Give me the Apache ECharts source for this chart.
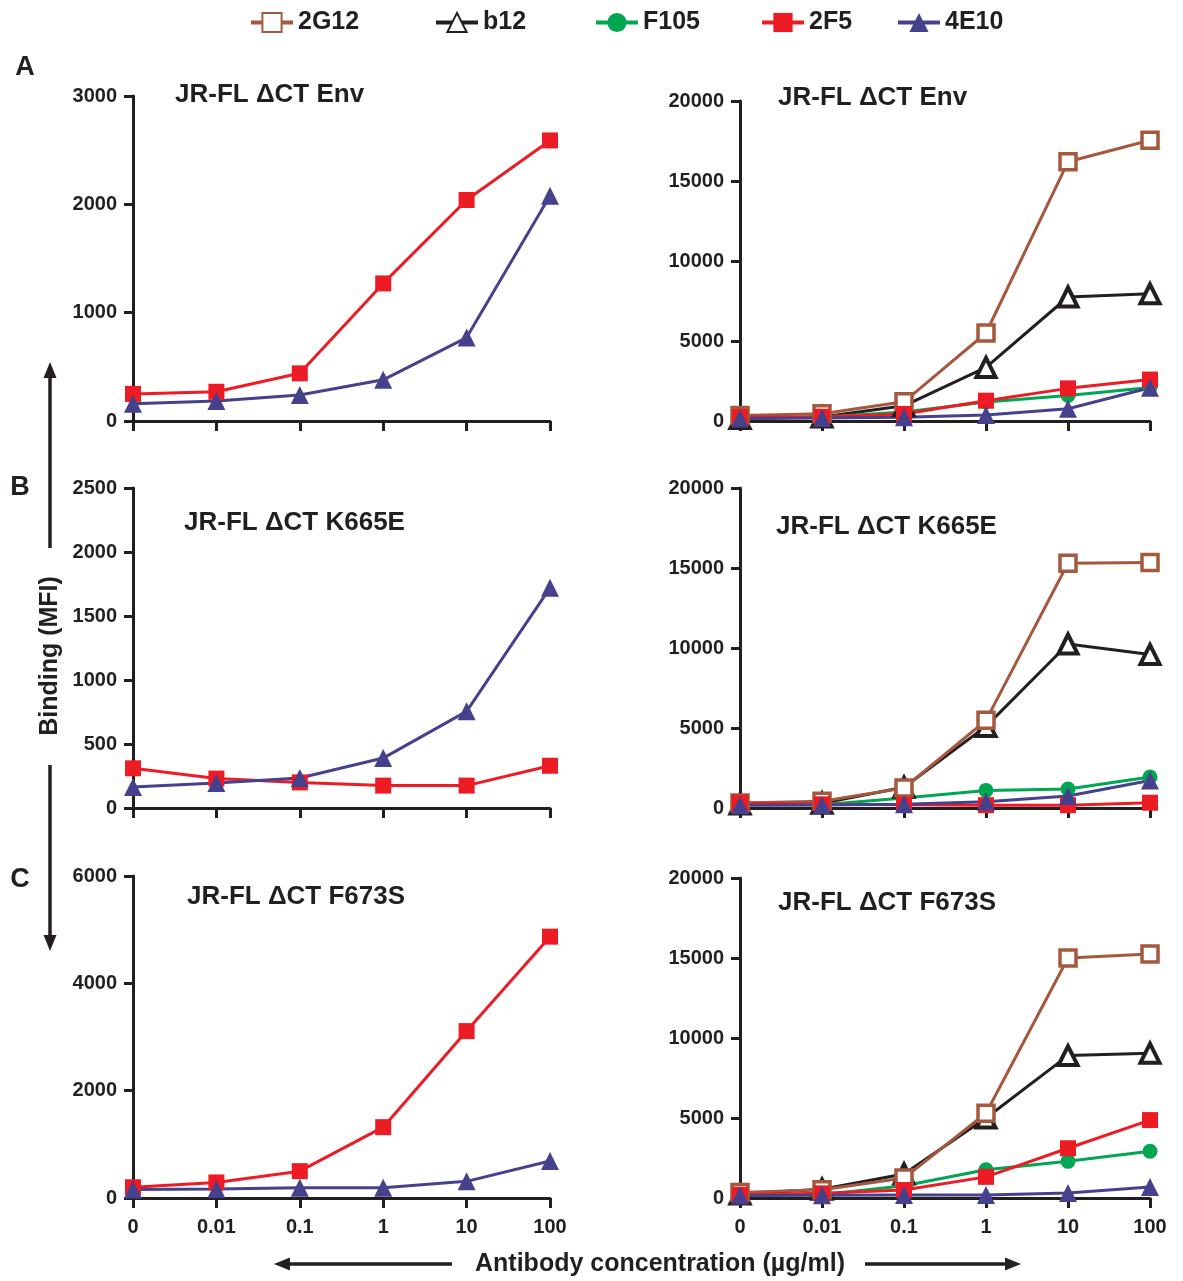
<!DOCTYPE html>
<html>
<head>
<meta charset="utf-8">
<script src="https://cdn.jsdelivr.net/npm/echarts@6/dist/echarts.min.js"></script>
<style>
html,body{margin:0;padding:0;background:#fff;}
#chart{width:1183px;height:1281px;}
</style>
</head>
<body>
<div id="chart"></div>
<script>
// ---- data ----
const categories = ['0', '0.01', '0.1', '1', '10', '100'];
const antibodies = ['2G12', 'b12', 'F105', '2F5', '4E10'];

// Row A: JR-FL ΔCT Env
const env_2G12 = [350, 450, 1200, 5500, 16200, 17550];
const env_b12  = [150, 250, 950, 3350, 7750, 7950];
const env_F105 = [150, 250, 560, 1190, 1600, 2100];
const env_2F5  = [250, 270, 440, 1270, 2040, 2590];
const env_4E10 = [160, 185, 240, 380, 770, 2080];

// Row B: JR-FL ΔCT K665E
const k665_2G12 = [310, 420, 1250, 5480, 15300, 15350];
const k665_b12  = [250, 300, 1300, 5100, 10250, 9600];
const k665_F105 = [200, 200, 620, 1100, 1190, 1940];
const k665_2F5  = [310, 230, 200, 175, 175, 330];
const k665_4E10 = [165, 195, 235, 390, 755, 1720];

// Row C: JR-FL ΔCT F673S
const f673_2G12 = [350, 520, 1250, 5300, 15000, 15250];
const f673_b12  = [250, 550, 1500, 5000, 8900, 9050];
const f673_F105 = [200, 200, 770, 1770, 2290, 2920];
const f673_2F5  = [200, 290, 500, 1320, 3110, 4870];
const f673_4E10 = [160, 170, 190, 190, 310, 690];

const panelTitles = ['JR-FL ΔCT Env', 'JR-FL ΔCT K665E', 'JR-FL ΔCT F673S'];
const leftYMax = [3000, 2500, 6000];
const leftYInterval = [1000, 500, 2000];
const rightYMax = 20000;
const rightYInterval = 5000;

// ---- styles ----
const FONT = '"Liberation Sans", Arial, Helvetica, sans-serif';
const INK = '#231F20';
const C = {
  '2G12': '#A4583D',
  'b12': '#231F20',
  'F105': '#00A651',
  '2F5': '#ED1C24',
  '4E10': '#46418D'
};
function styleFor(name) {
  const col = C[name];
  const base = { lineStyle: { color: col, width: 3 }, color: col };
  if (name === '2G12') return Object.assign(base, { symbol: 'rect', symbolSize: 16, itemStyle: { color: '#fff', borderColor: col, borderWidth: 3.5 } });
  if (name === 'b12') return Object.assign(base, { symbol: 'triangle', symbolSize: 19, itemStyle: { color: '#fff', borderColor: col, borderWidth: 4 } });
  if (name === 'F105') return Object.assign(base, { symbol: 'circle', symbolSize: 15, itemStyle: { color: col } });
  if (name === '2F5') return Object.assign(base, { symbol: 'rect', symbolSize: 16, itemStyle: { color: col } });
  return Object.assign(base, { symbol: 'triangle', symbolSize: 18, itemStyle: { color: col } });
}
function mkSeries(name, data, idx) {
  return Object.assign({
    type: 'line', name: name, data: data,
    xAxisIndex: idx, yAxisIndex: idx,
    showSymbol: true, animation: false, silent: true
  }, styleFor(name));
}

// ---- layout ----
const grids = [
  { left: 133, top: 96,  width: 417, height: 325 },
  { left: 740, top: 101, width: 410, height: 320 },
  { left: 133, top: 488, width: 417, height: 320 },
  { left: 740, top: 488, width: 410, height: 320 },
  { left: 133, top: 876, width: 417, height: 322 },
  { left: 740, top: 878, width: 410, height: 320 }
];

const xAxes = [], yAxes = [];
grids.forEach((g, i) => {
  const row = Math.floor(i / 2);
  const isRight = i % 2 === 1;
  xAxes.push({
    type: 'category', gridIndex: i, data: categories, boundaryGap: false,
    axisLine: { show: true, lineStyle: { color: INK, width: 3 } },
    axisTick: { show: true, length: 10, alignWithLabel: true, lineStyle: { color: INK, width: 3 } },
    axisLabel: { show: row === 2, fontSize: 20, fontWeight: 'bold', color: INK, fontFamily: FONT, margin: 19 },
    splitLine: { show: false }
  });
  yAxes.push({
    type: 'value', gridIndex: i, min: 0,
    max: isRight ? rightYMax : leftYMax[row],
    interval: isRight ? rightYInterval : leftYInterval[row],
    axisLine: { show: true, lineStyle: { color: INK, width: 3 } },
    axisTick: { show: true, length: 9, lineStyle: { color: INK, width: 3 } },
    axisLabel: { fontSize: 20, fontWeight: 'bold', color: INK, fontFamily: FONT, margin: 16,
      formatter: v => String(v) },
    splitLine: { show: false }
  });
});

const rows = [
  { '2G12': env_2G12, 'b12': env_b12, 'F105': env_F105, '2F5': env_2F5, '4E10': env_4E10 },
  { '2G12': k665_2G12, 'b12': k665_b12, 'F105': k665_F105, '2F5': k665_2F5, '4E10': k665_4E10 },
  { '2G12': f673_2G12, 'b12': f673_b12, 'F105': f673_F105, '2F5': f673_2F5, '4E10': f673_4E10 }
];
const series = [];
rows.forEach((r, row) => {
  // left panel: 2F5 and 4E10 only
  series.push(mkSeries('2F5', r['2F5'], row * 2));
  series.push(mkSeries('4E10', r['4E10'], row * 2));
  // right panel: all antibodies (drawing order bottom -> top)
  ['b12', 'F105', '2G12', '2F5', '4E10'].forEach(n => series.push(mkSeries(n, r[n], row * 2 + 1)));
});

// legends, one per antibody
const legendLeft = [249, 434, 594, 760, 896];
const legends = antibodies.map((n, i) => ({
  data: [n], left: legendLeft[i], top: 10, orient: 'horizontal', padding: 0,
  itemWidth: 42, itemHeight: 24, selectedMode: false,
  lineStyle: { width: 4 },
  textStyle: { fontSize: 25, fontWeight: 'bold', color: INK, fontFamily: FONT }
}));

// titles & decorations
const titlePos = [[175, 95], [778, 98], [184, 523], [776, 527], [187, 897], [778, 903]];
const graphics = [];
titlePos.forEach((p, i) => {
  graphics.push({ type: 'text', x: p[0], y: p[1], silent: true,
    style: { text: panelTitles[Math.floor(i / 2)], font: 'bold 26px ' + FONT, fill: INK, align: 'left', verticalAlign: 'middle' } });
});
[['A', 25, 68], ['B', 20, 488], ['C', 20, 880]].forEach(l => {
  graphics.push({ type: 'text', x: l[1], y: l[2], silent: true,
    style: { text: l[0], font: 'bold 27px ' + FONT, fill: INK, align: 'center', verticalAlign: 'middle' } });
});
graphics.push({ type: 'text', x: 50, y: 656, rotation: Math.PI / 2, silent: true,
  style: { text: 'Binding (MFI)', font: 'bold 25px ' + FONT, fill: INK, align: 'center', verticalAlign: 'middle' } });
graphics.push({ type: 'text', x: 660, y: 1264, silent: true,
  style: { text: 'Antibody concentration (µg/ml)', font: 'bold 25px ' + FONT, fill: INK, align: 'center', verticalAlign: 'middle' } });
const AW = 3.5;
// vertical arrows
graphics.push({ type: 'line', silent: true, shape: { x1: 50, y1: 548, x2: 50, y2: 374 }, style: { stroke: INK, lineWidth: AW } });
graphics.push({ type: 'polygon', silent: true, shape: { points: [[50, 362], [43.5, 378], [56.5, 378]] }, style: { fill: INK } });
graphics.push({ type: 'line', silent: true, shape: { x1: 50, y1: 765, x2: 50, y2: 938 }, style: { stroke: INK, lineWidth: AW } });
graphics.push({ type: 'polygon', silent: true, shape: { points: [[50, 951], [43.5, 935], [56.5, 935]] }, style: { fill: INK } });
// horizontal arrows
graphics.push({ type: 'line', silent: true, shape: { x1: 452, y1: 1264, x2: 286, y2: 1264 }, style: { stroke: INK, lineWidth: AW } });
graphics.push({ type: 'polygon', silent: true, shape: { points: [[274, 1264], [290, 1257.5], [290, 1270.5]] }, style: { fill: INK } });
graphics.push({ type: 'line', silent: true, shape: { x1: 865, y1: 1264, x2: 1008, y2: 1264 }, style: { stroke: INK, lineWidth: AW } });
graphics.push({ type: 'polygon', silent: true, shape: { points: [[1021, 1264], [1005, 1257.5], [1005, 1270.5]] }, style: { fill: INK } });

const chart = echarts.init(document.getElementById('chart'), null, { renderer: 'canvas' });
chart.setOption({
  backgroundColor: '#fff',
  animation: false,
  textStyle: { fontFamily: FONT },
  legend: legends,
  grid: grids,
  xAxis: xAxes,
  yAxis: yAxes,
  series: series,
  graphic: graphics
});
</script>
</body>
</html>
